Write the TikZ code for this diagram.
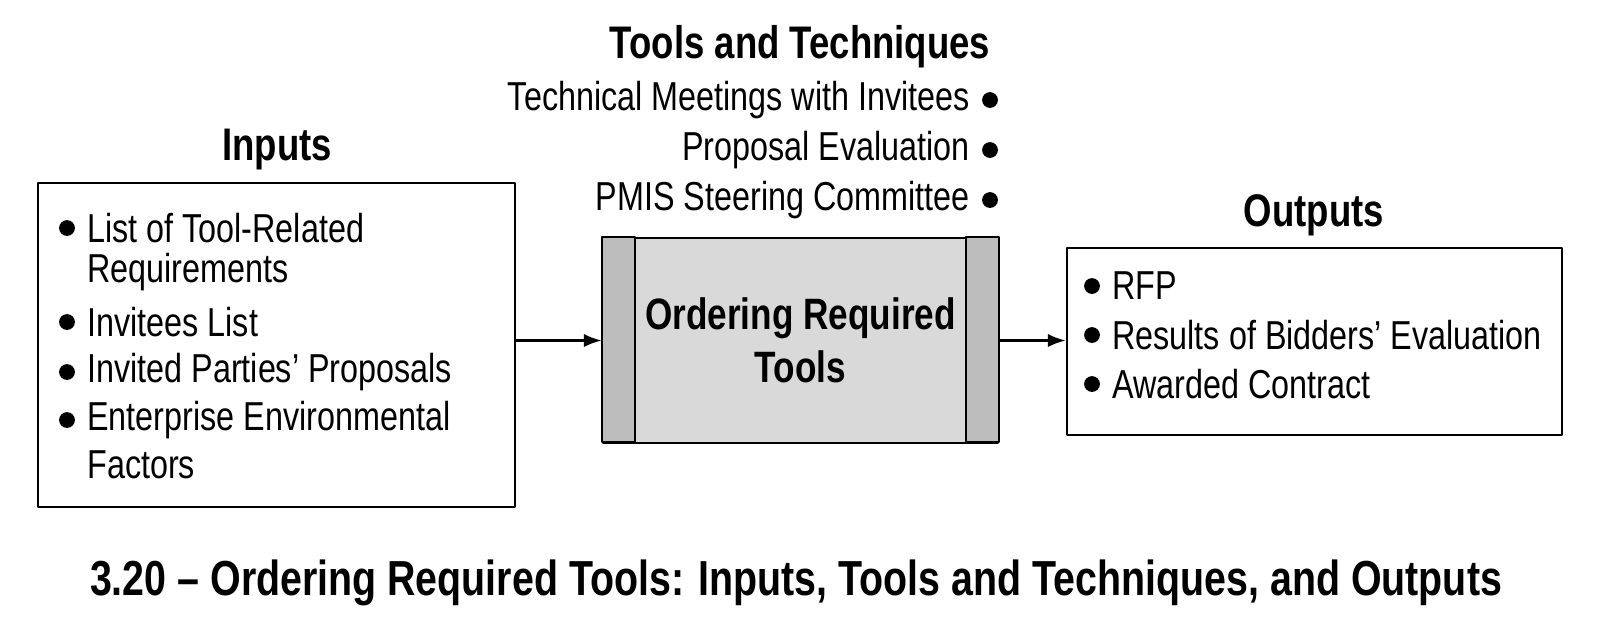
\documentclass[tikz,border=0pt]{standalone}
\usepackage{fontspec}
\setmainfont{Liberation Sans}[FakeStretch=0.8]
\usetikzlibrary{positioning,calc,arrows.meta}
\definecolor{boxgray}{HTML}{D9D9D9}
\definecolor{bargray}{HTML}{BDBDBD}
\begin{document}
\begin{tikzpicture}[
				x=0.02cm,y=-0.02cm,
				>=Latex,
				line cap=round,line join=round,
				font=\fontsize{23}{27}\selectfont,
				hdr/.style={font=\fontsize{26}{30}\selectfont\bfseries},
				item/.style={anchor=west,inner sep=0pt},
				titem/.style={anchor=east,inner sep=0pt},
				blt/.style={circle,fill=black,inner sep=0pt,minimum size=9pt},
				frame/.style={draw=black,line width=1.4pt}
				]
				%----- canvas
				\useasboundingbox (0,0) rectangle (1617,640);
				
				%----- inputs
				\node[hdr] (inTitle) at (277,150) {Inputs};
				\node[frame,minimum width=477*0.02cm,minimum height=324*0.02cm] (inBox) at (276.5,345) {};
				\foreach \y/\t/\b in {228/List of Tool-Related/1,272/Requirements/0,322/Invitees List/1,
					372/Invited Parties’ Proposals/1,420/Enterprise Environmental/1,465/Factors/0}{
					\node[item] at (87,\y) {\t};
					\ifnum\b=1 \node[blt] at (67,\y) {};\fi
				}
				
				%----- process
				\node[frame,fill=boxgray,minimum width=395*0.02cm,minimum height=205*0.02cm] (proc) at (800.5,340.5) {};
				\draw[frame,fill=bargray] (proc.north west) rectangle ++(33,205);
				\draw[frame,fill=bargray] (proc.north east) rectangle ++(-33,205);
				\node[font=\fontsize{25}{30}\selectfont\bfseries,align=center] (procLbl) at (proc.center) {Ordering Required\\Tools};
				
				%----- tools and techniques
				\node[hdr] (ttTitle) at (800,47) {Tools and Techniques};
				\foreach \y/\t in {100/Technical Meetings with Invitees,150/Proposal Evaluation,200/PMIS Steering Committee}{
					\node[titem] at (970,\y) {\t};
					\node[blt] at (990,\y) {};
				}
				
				%----- outputs
				\node[hdr] (outTitle) at (1314,215) {Outputs};
				\node[frame,minimum width=495*0.02cm,minimum height=187*0.02cm] (outBox) at (1314.5,341.5) {};
				\foreach \y/\t in {286/RFP,335/Results of Bidders’ Evaluation,384/Awarded Contract}{
					\node[item] at (1112,\y) {\t};
					\node[blt] at (1092,\y) {};
				}
				
				%----- arrows
				\draw[->,line width=1.6pt] (inBox.east |- proc.west) -- (proc.west);
				\draw[->,line width=1.6pt] (proc.east) -- (outBox.west |- proc.east);
				
				%----- caption
				\node[font=\fontsize{28}{32}\selectfont\bfseries] (cap) at (796,583)
				{3.20 – Ordering Required Tools: Inputs, Tools and Techniques, and Outputs};
			\end{tikzpicture}
\end{document}
